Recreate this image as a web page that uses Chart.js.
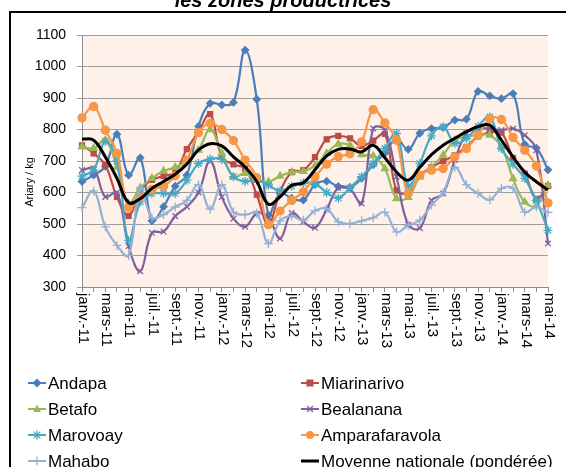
<!DOCTYPE html>
<html><head><meta charset="utf-8">
<script src="https://cdn.jsdelivr.net/npm/chart.js@4"></script>
<style>
html,body{margin:0;padding:0;background:#fff;overflow:hidden}
#wrap{position:relative;width:566px;height:467px;overflow:hidden}
#frame{position:absolute;left:9px;top:11px;width:620px;height:520px;border-left:2px solid #000;border-top:2px solid #000;}
canvas{position:absolute;left:0;top:0}
</style></head><body>
<div id="wrap"><div id="frame"></div><canvas id="c" width="566" height="467"></canvas></div>
<script>
const titleText = 'les zones productrices';
const yTitle = 'Ariary / kg';
const months = [
 'janv.-11','févr.-11','mars-11','avr.-11','mai-11','juin-11','juil.-11','août-11','sept.-11','oct.-11','nov.-11','déc.-11',
 'janv.-12','févr.-12','mars-12','avr.-12','mai-12','juin-12','juil.-12','août-12','sept.-12','oct.-12','nov.-12','déc.-12',
 'janv.-13','févr.-13','mars-13','avr.-13','mai-13','juin-13','juil.-13','août-13','sept.-13','oct.-13','nov.-13','déc.-13',
 'janv.-14','févr.-14','mars-14','avr.-14','mai-14'];
const xTickLabels = ['janv.-11','mars-11','mai-11','juil.-11','sept.-11','nov.-11','janv.-12','mars-12','mai-12','juil.-12','sept.-12','nov.-12',
 'janv.-13','mars-13','mai-13','juil.-13','sept.-13','nov.-13','janv.-14','mars-14','mai-14'];
const yMin = 300, yMax = 1100, yStep = 100;

const andapa = [635,655,683,785,655,710,510,555,620,655,810,883,878,886,1052,896,528,598,582,576,625,636,619,616,645,688,725,770,737,788,803,806,830,833,921,907,898,914,753,741,672];
const miarinarivo = [750,724,687,586,526,605,640,652,665,738,793,849,713,689,676,593,499,602,665,671,712,769,780,772,748,765,786,607,600,655,680,700,718,745,778,790,790,710,660,580,621];
const betafo = [745,740,766,681,565,615,645,668,680,700,735,800,724,650,661,639,634,652,665,667,685,724,754,750,720,716,676,581,585,650,681,719,766,777,782,782,745,644,570,558,623];
const bealanana = [671,676,586,600,430,350,472,476,525,555,600,700,586,517,491,533,520,454,535,507,488,546,615,611,565,803,798,650,498,487,575,597,703,788,803,803,798,803,782,734,438];
const marovoay = [652,672,762,700,448,570,597,597,597,639,692,706,705,650,635,640,623,605,620,630,628,600,582,615,650,692,740,788,620,692,780,809,756,772,810,840,740,690,645,575,480];
const amparafaravola = [837,873,798,724,552,585,610,620,653,703,790,820,800,765,703,647,498,541,575,602,650,690,714,723,761,863,821,766,597,655,671,676,713,740,782,834,832,775,734,684,567];
const mahabo = [552,605,491,432,400,615,520,530,554,575,625,547,625,538,530,534,438,510,525,512,542,549,507,501,510,520,537,475,496,512,560,600,680,625,597,577,613,613,538,554,537];
const moyenne = [770,766,713,645,568,580,613,635,658,690,735,755,748,713,681,635,563,586,623,631,672,716,737,738,729,750,710,665,639,680,720,750,772,793,809,814,766,713,665,634,608];

const seriesNames = ['Andapa','Miarinarivo','Betafo','Bealanana','Marovoay','Amparafaravola','Mahabo','Moyenne nationale (pondérée)'];
const seriesData = [andapa, miarinarivo, betafo, bealanana, marovoay, amparafaravola, mahabo, moyenne];
const seriesColors = ['#4A7EBB','#BE4B48','#98B954','#7D60A0','#46AAC5','#F79646','#94B1D6','#000000'];
const seriesMarkers = ['rectRot','rect','triangle','crossRot','star','circle','cross',false];
const markerSizes = [3.5,3.5,4,4,4.5,4,4.5,0];

function drawMarker(ctx, style, x, y, r, color){
  ctx.save();
  ctx.fillStyle = color; ctx.strokeStyle = color; ctx.lineWidth = 1.3;
  ctx.beginPath();
  if (style === 'circle'){ ctx.arc(x,y,r,0,Math.PI*2); ctx.fill(); }
  else if (style === 'rect'){ ctx.fillRect(x-r,y-r,2*r,2*r); }
  else if (style === 'rectRot'){ ctx.moveTo(x,y-r*1.3); ctx.lineTo(x+r*1.3,y); ctx.lineTo(x,y+r*1.3); ctx.lineTo(x-r*1.3,y); ctx.closePath(); ctx.fill(); }
  else if (style === 'triangle'){ ctx.moveTo(x,y-r*1.1); ctx.lineTo(x+r,y+r*0.75); ctx.lineTo(x-r,y+r*0.75); ctx.closePath(); ctx.fill(); }
  else if (style === 'cross'){ ctx.moveTo(x-r,y); ctx.lineTo(x+r,y); ctx.moveTo(x,y-r); ctx.lineTo(x,y+r); ctx.stroke(); }
  else if (style === 'crossRot'){ const d=r*0.75; ctx.moveTo(x-d,y-d); ctx.lineTo(x+d,y+d); ctx.moveTo(x+d,y-d); ctx.lineTo(x-d,y+d); ctx.stroke(); }
  else if (style === 'star'){ const d=r*0.75; ctx.moveTo(x-r,y); ctx.lineTo(x+r,y); ctx.moveTo(x,y-r); ctx.lineTo(x,y+r); ctx.moveTo(x-d,y-d); ctx.lineTo(x+d,y+d); ctx.moveTo(x+d,y-d); ctx.lineTo(x-d,y+d); ctx.stroke(); }
  ctx.restore();
}

const datasets = seriesNames.map((name,i)=>({
  label: name,
  data: seriesData[i],
  borderColor: seriesColors[i],
  backgroundColor: seriesColors[i],
  borderWidth: i===7 ? 3 : 2.2,
  tension: 0.4,
  pointStyle: seriesMarkers[i],
  pointRadius: markerSizes[i],
  pointBorderWidth: 1.3,
  pointBorderColor: seriesColors[i],
  pointBackgroundColor: seriesColors[i],
  order: seriesNames.length - i,
  fill: false
}));

const bgPlugin = {
  id: 'bg',
  beforeDraw(chart){
    const {ctx, chartArea:a} = chart;
    ctx.save(); ctx.fillStyle = '#FDF1E9';
    ctx.fillRect(a.left, a.top, a.right-a.left, a.bottom-a.top);
    ctx.restore();
  }
};

const textPlugin = {
  id: 'texts',
  afterDraw(chart){
    const ctx = chart.ctx; const xs = chart.scales.x; const a = chart.chartArea;
    ctx.save();
    ctx.fillStyle = '#000';
    ctx.font = 'italic bold 20px "Liberation Sans"';
    ctx.textAlign = 'center'; ctx.textBaseline = 'alphabetic';
    ctx.fillText(titleText, 283, 7);
    ctx.font = '15px "Liberation Sans"';
    ctx.textAlign = 'left'; ctx.textBaseline = 'middle';
    xTickLabels.forEach(lbl=>{
      const idx = months.indexOf(lbl);
      const x = xs.getPixelForValue(idx);
      ctx.save(); ctx.translate(x+1, a.bottom+6); ctx.rotate(Math.PI/2);
      ctx.fillText(lbl, 0, 0); ctx.restore();
    });
    ctx.font = '11px "Liberation Sans"';
    ctx.save(); ctx.translate(30, 182); ctx.rotate(-Math.PI/2);
    ctx.textAlign='center'; ctx.fillText(yTitle, 0, 0); ctx.restore();
    const colX = [28, 301];
    ctx.font = '17px "Liberation Sans"';
    ctx.textAlign='left'; ctx.textBaseline='middle';
    seriesNames.forEach((name,i)=>{
      const col = i%2, row = Math.floor(i/2);
      const x0 = colX[col], y = 383 + row*26;
      ctx.strokeStyle = seriesColors[i]; ctx.lineWidth = i===7?3:2;
      ctx.beginPath(); ctx.moveTo(x0, y); ctx.lineTo(x0+18, y); ctx.stroke();
      if (seriesMarkers[i]) drawMarker(ctx, seriesMarkers[i], x0+9, y, markerSizes[i], seriesColors[i]);
      ctx.fillStyle = '#000';
      ctx.fillText(name, x0+20, y+1);
    });
    ctx.restore();
  }
};

new Chart(document.getElementById('c'), {
  type: 'line',
  data: { labels: months, datasets },
  options: {
    responsive: false, animation: false, devicePixelRatio: 1,
    layout: { padding: { top: 35, left: 0, right: 18, bottom: 0 } },
    plugins: { legend: { display: false }, tooltip: { enabled: false }, title: { display: false } },
    scales: {
      x: {
        offset: false,
        ticks: { display: false, autoSkip: false },
        grid: { drawOnChartArea: false, drawTicks: true, tickLength: 5, color: '#8C8C8C' },
        border: { display: true, color: '#8C8C8C', width: 1 },
        afterFit(s){ s.height = 180; }
      },
      y: {
        min: yMin, max: yMax,
        ticks: { stepSize: yStep, color: '#000', font: { family: 'Liberation Sans', size: 14 }, padding: 11,
                 callback: v => String(v) },
        grid: { color: '#9E9E9E', tickLength: 5, lineWidth: 1 },
        border: { display: true, color: '#8C8C8C', width: 1 },
        afterFit(s){ s.width = 82; }
      }
    }
  },
  plugins: [bgPlugin, textPlugin]
});
</script>
</body></html>
